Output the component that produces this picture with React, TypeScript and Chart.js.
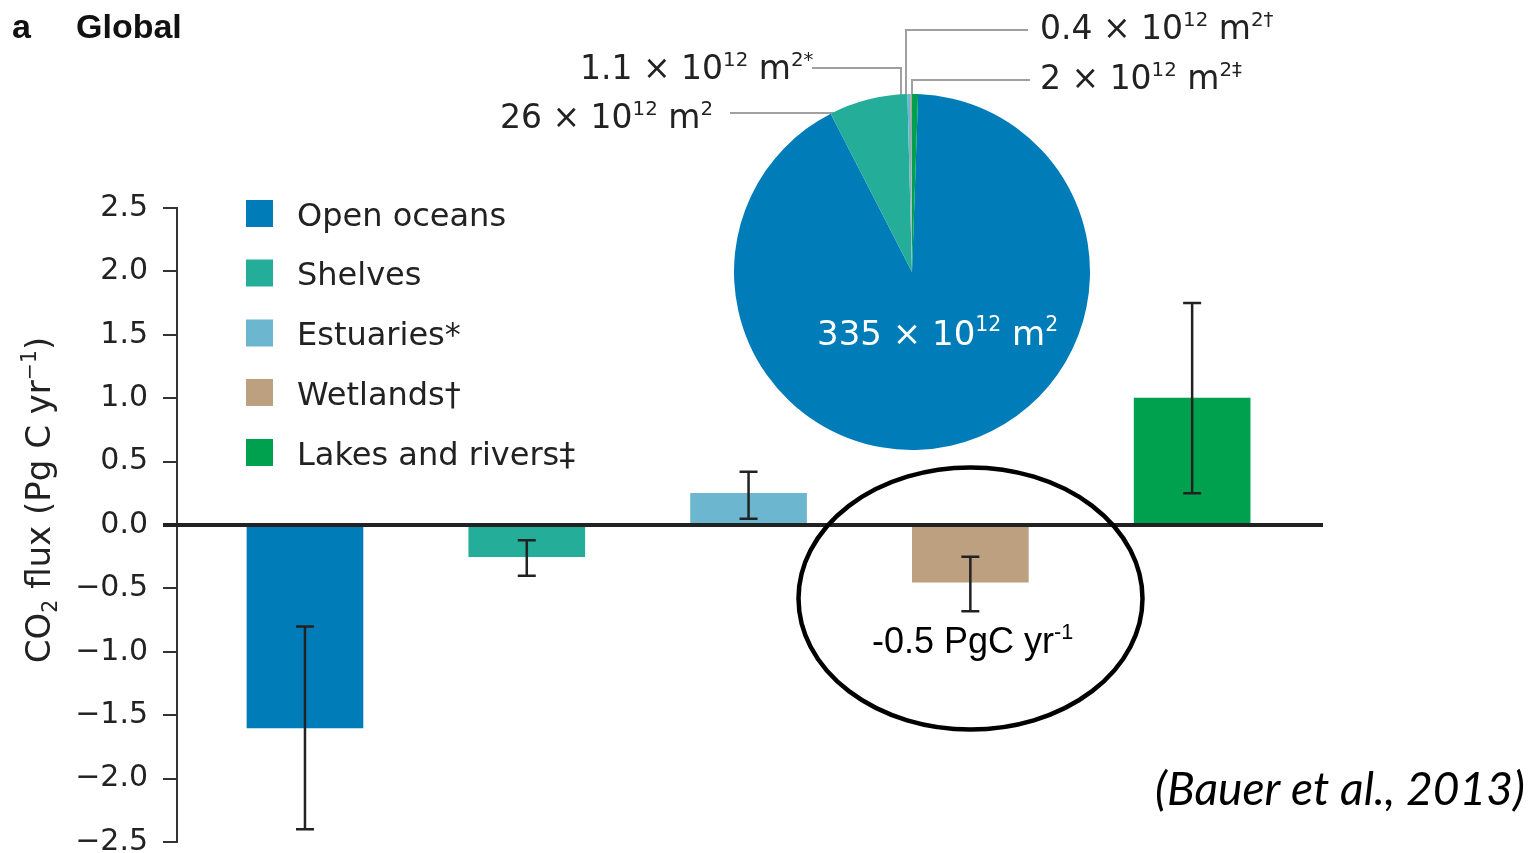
import React, { useEffect, useRef } from "react";
import { Chart, registerables } from "chart.js";

Chart.register(...registerables);

// ---------- data ----------
const categories = ["Open oceans", "Shelves", "Estuaries*", "Wetlands†", "Lakes and rivers‡"];
const fluxValues = [-1.6, -0.25, 0.25, -0.45, 1.0]; // Pg C yr-1
const errLow = [-2.4, -0.4, 0.05, -0.68, 0.25];
const errHigh = [-0.8, -0.12, 0.42, -0.25, 1.75];
const barColors = ["#007DB9", "#24AD98", "#6DB6D0", "#BDA07F", "#00A14E"];
const areaValues = [335, 26, 1.1, 0.4, 2]; // x 10^12 m2
const areaMarks = ["", "", "*", "†", "‡"];
const yTickValues = [-2.5, -2.0, -1.5, -1.0, -0.5, 0.0, 0.5, 1.0, 1.5, 2.0, 2.5];
const annotationText = "-0.5 PgC yr";
const citation = "(Bauer et al., 2013)";

type Seg = { t: string; m?: "sup" | "sub" };

function drawRich(
  ctx: CanvasRenderingContext2D,
  segs: Seg[],
  x: number,
  y: number,
  size: number,
  family: string,
  color: string,
  align: "left" | "center" = "left",
  weight = "normal"
) {
  const fontFor = (s: Seg) => {
    const sz = s.m ? size * 0.6 : size;
    return `${weight} ${sz}px ${family}`;
  };
  let total = 0;
  segs.forEach((s) => {
    ctx.font = fontFor(s);
    total += ctx.measureText(s.t).width;
  });
  let cx = align === "center" ? x - total / 2 : x;
  ctx.fillStyle = color;
  ctx.textAlign = "left";
  ctx.textBaseline = "alphabetic";
  segs.forEach((s) => {
    ctx.font = fontFor(s);
    let dy = 0;
    if (s.m === "sup") dy = -size * 0.4;
    if (s.m === "sub") dy = size * 0.22;
    ctx.fillText(s.t, cx, y + dy);
    cx += ctx.measureText(s.t).width;
  });
  return total;
}

function areaSegs(i: number): Seg[] {
  return [
    { t: `${areaValues[i]} × 10` },
    { t: "12", m: "sup" },
    { t: " m" },
    { t: "2" + areaMarks[i], m: "sup" },
  ];
}

const FONT = "'DejaVu Sans'";
const INK = "#222";

export default function App() {
  const barRef = useRef<HTMLCanvasElement>(null);
  const pieRef = useRef<HTMLCanvasElement>(null);

  useEffect(() => {
    if (!barRef.current || !pieRef.current) return;

    const decorPlugin = {
      id: "decor",
      afterDatasetsDraw(chart: any) {
        const ctx: CanvasRenderingContext2D = chart.ctx;
        const ys = chart.scales.y;
        const meta = chart.getDatasetMeta(0);
        ctx.save();
        // error bars
        ctx.strokeStyle = INK;
        ctx.lineWidth = 2.5;
        meta.data.forEach((bar: any, i: number) => {
          const x = bar.x;
          const yl = ys.getPixelForValue(errLow[i]);
          const yh = ys.getPixelForValue(errHigh[i]);
          ctx.beginPath();
          ctx.moveTo(x, yl);
          ctx.lineTo(x, yh);
          ctx.moveTo(x - 9, yl);
          ctx.lineTo(x + 9, yl);
          ctx.moveTo(x - 9, yh);
          ctx.lineTo(x + 9, yh);
          ctx.stroke();
        });
        // zero line
        const y0 = ys.getPixelForValue(0);
        ctx.lineWidth = 4;
        ctx.beginPath();
        ctx.moveTo(chart.chartArea.left - 14, y0);
        ctx.lineTo(chart.chartArea.right, y0);
        ctx.stroke();
        ctx.restore();
      },
      afterDraw(chart: any) {
        const ctx: CanvasRenderingContext2D = chart.ctx;
        ctx.save();
        // panel title
        ctx.fillStyle = "#111";
        ctx.font = "bold 34px 'Liberation Sans'";
        ctx.textBaseline = "alphabetic";
        ctx.fillText("a", 12, 38);
        ctx.fillText("Global", 76, 38);

        // y axis title
        ctx.save();
        ctx.translate(50, 500);
        ctx.rotate(-Math.PI / 2);
        drawRich(
          ctx,
          [{ t: "CO" }, { t: "2", m: "sub" }, { t: " flux (Pg C yr" }, { t: "−1", m: "sup" }, { t: ")" }],
          0,
          0,
          34,
          FONT,
          INK,
          "center"
        );
        ctx.restore();

        // legend
        const rows = [213.5, 273, 333, 392.5, 452.5];
        categories.forEach((c, i) => {
          ctx.fillStyle = barColors[i];
          ctx.fillRect(246, rows[i] - 13.5, 27, 27);
          ctx.fillStyle = INK;
          ctx.font = `32px ${FONT}`;
          ctx.fillText(c, 297, rows[i] + 12);
        });

        // pie leader lines
        ctx.strokeStyle = "#A0A0A0";
        ctx.lineWidth = 2;
        const lines: number[][][] = [
          [],
          [[730, 113], [835, 113]],
          [[812, 68], [901, 68], [901, 96]],
          [[1028, 30], [906, 30], [906, 96]],
          [[1030, 80], [912, 80], [912, 96]],
        ];
        lines.forEach((pts) => {
          if (!pts.length) return;
          ctx.beginPath();
          pts.forEach((p, k) => (k ? ctx.lineTo(p[0], p[1]) : ctx.moveTo(p[0], p[1])));
          ctx.stroke();
        });
        // pie outside labels
        const labelPos: number[][] = [[], [500, 128], [580, 79], [1040, 39], [1040, 89]];
        labelPos.forEach((p, i) => {
          if (!p.length) return;
          drawRich(ctx, areaSegs(i), p[0], p[1], 33, FONT, INK);
        });

        // annotation ellipse
        ctx.strokeStyle = "#000";
        ctx.lineWidth = 4.5;
        ctx.beginPath();
        ctx.ellipse(970.5, 598.5, 172, 131, 0, 0, Math.PI * 2);
        ctx.stroke();
        drawRich(
          ctx,
          [{ t: annotationText }, { t: "-1", m: "sup" }],
          872,
          653,
          36,
          "'Liberation Sans'",
          "#000"
        );

        // citation, fit to width
        let sz = 40;
        ctx.font = `italic ${sz}px Lato`;
        const w = ctx.measureText(citation).width;
        sz = (sz * 370) / w;
        ctx.font = `italic ${sz}px Lato`;
        ctx.fillStyle = "#000";
        ctx.fillText(citation, 1155, 805);
        ctx.restore();
      },
    };

    const bar = new Chart(barRef.current, {
      type: "bar",
      data: {
        datasets: [
          {
            data: fluxValues.map((v, i) => ({ x: i, y: v })),
            backgroundColor: barColors,
            borderWidth: 0,
            barThickness: 116,
          },
        ],
      },
      options: {
        responsive: false,
        animation: false,
        events: [],
        layout: { padding: { left: 7, top: 208, right: 207, bottom: 13 } },
        plugins: { legend: { display: false }, tooltip: { enabled: false }, title: { display: false } },
        scales: {
          x: {
            type: "linear",
            display: false,
            offset: false,
            min: -0.577,
            max: 4.59,
          },
          y: {
            min: -2.5,
            max: 2.5,
            afterFit: (s: any) => {
              s.width = 170;
            },
            afterBuildTicks: (s: any) => {
              s.ticks = yTickValues.map((v) => ({ value: v }));
            },
            ticks: {
              padding: 15,
              color: INK,
              font: { family: "DejaVu Sans", size: 30 },
              callback: (v: any) => (Number(v) < 0 ? "−" : "") + Math.abs(Number(v)).toFixed(1),
            },
            grid: { drawOnChartArea: false, drawTicks: true, tickLength: 14, color: "#333", lineWidth: 2 },
            border: { display: true, color: "#333", width: 2 },
          },
        },
      } as any,
      plugins: [decorPlugin],
    });

    const pieLabel = {
      id: "pieLabel",
      afterDraw(chart: any) {
        const ctx: CanvasRenderingContext2D = chart.ctx;
        const a = chart.chartArea;
        const cx = (a.left + a.right) / 2;
        const cy = (a.top + a.bottom) / 2;
        ctx.save();
        drawRich(ctx, areaSegs(0), cx - 95, cy + 73, 34, FONT, "#fff");
        ctx.restore();
      },
    };

    const total = areaValues.reduce((s, v) => s + v, 0);
    const pie = new Chart(pieRef.current, {
      type: "pie",
      data: {
        labels: categories,
        datasets: [{ data: areaValues, backgroundColor: barColors, borderWidth: 0 }],
      },
      options: {
        responsive: false,
        animation: false,
        events: [],
        rotation: (areaValues[4] / total) * 360,
        layout: { padding: 0 },
        plugins: { legend: { display: false }, tooltip: { enabled: false } },
      } as any,
      plugins: [pieLabel],
    });

    return () => {
      bar.destroy();
      pie.destroy();
    };
  }, []);

  return (
    <div style={{ position: "absolute", left: 0, top: 0, width: 1530, height: 853, background: "#fff", overflow: "hidden" }}>
      <canvas ref={barRef} width={1530} height={875} style={{ position: "absolute", left: 0, top: 0 }} />
      <canvas ref={pieRef} width={356} height={356} style={{ position: "absolute", left: 734, top: 94 }} />
    </div>
  );
}
